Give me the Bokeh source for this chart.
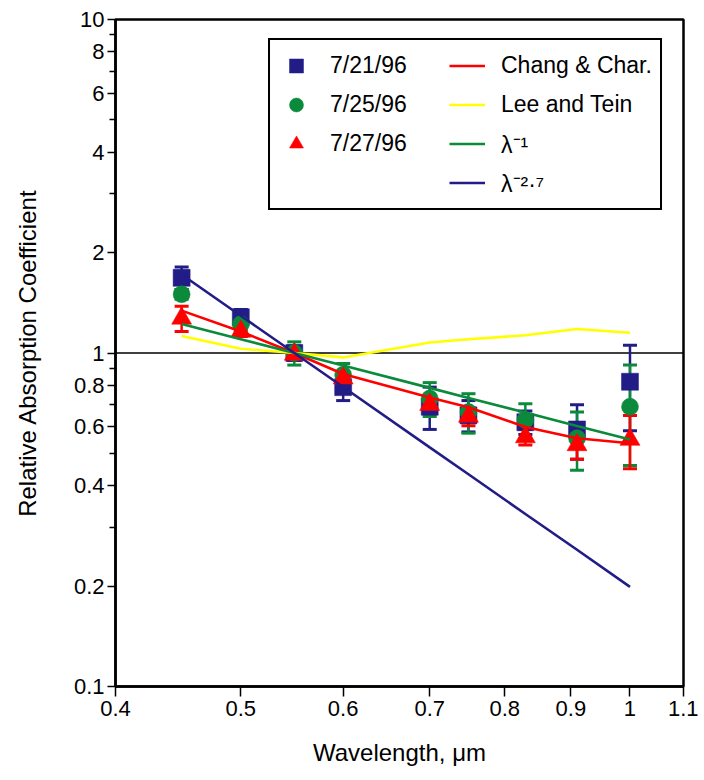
from bokeh.plotting import figure
from bokeh.models import (Range1d, FixedTicker, Whisker, ColumnDataSource, Span,
                          Legend, LegendItem, TeeHead)
from bokeh.embed import file_html
from bokeh.resources import INLINE

# ---------------- data ----------------
wavelength = [0.45, 0.50, 0.55, 0.60, 0.70, 0.75, 0.83, 0.91, 1.00]

obs_0721 = [1.68, 1.28, 1.00, 0.79, 0.69, 0.65, 0.62, 0.59, 0.82]
err_0721 = [0.13, 0.07, 0.05, 0.07, 0.10, 0.07, 0.05, 0.11, 0.235]

obs_0725 = [1.50, 1.22, 1.00, 0.86, 0.73, 0.665, 0.63, 0.555, 0.69]
err_0725 = [0.05, 0.05, 0.08, 0.07, 0.085, 0.09, 0.075, 0.11, 0.23]

obs_0727 = [1.27, 1.16, 0.99, 0.84, 0.70, 0.645, 0.56, 0.53, 0.55]
err_0727 = [0.11, 0.04, 0.03, 0.03, 0.04, 0.04, 0.03, 0.05, 0.10]

chang_char = [1.34, 1.16, 1.00, 0.865, 0.735, 0.688, 0.60, 0.555, 0.536]
lee_tein = [1.125, 1.03, 1.00, 0.97, 1.075, 1.10, 1.13, 1.18, 1.15]
lambda_m1 = [1.222, 1.10, 1.00, 0.917, 0.786, 0.733, 0.663, 0.604, 0.55]
lambda_m27 = [1.719, 1.293, 1.00, 0.791, 0.521, 0.433, 0.329, 0.257, 0.199]

x_ticks = [0.4, 0.5, 0.6, 0.7, 0.8, 0.9, 1.0, 1.1]
x_tick_labels = ["0.4", "0.5", "0.6", "0.7", "0.8", "0.9", "1", "1.1"]
y_ticks = [0.1, 0.2, 0.4, 0.6, 0.8, 1.0, 2.0, 4.0, 6.0, 8.0, 10.0]
y_tick_labels = ["0.1", "0.2", "0.4", "0.6", "0.8", "1", "2", "4", "6", "8", "10"]
y_minor_ticks = [0.3, 0.5, 0.7, 0.9, 3.0, 5.0, 7.0, 9.0]

# ---------------- styling ----------------
NAVY = "#221C87"
GREEN = "#0B8A3B"
RED = "#FF0000"
YELLOW = "#FFFF00"
FONT = "Liberation Sans"

p = figure(width=698, height=776, x_axis_type="log", y_axis_type="log",
           x_range=Range1d(0.4, 1.1), y_range=Range1d(0.1, 10),
           output_backend="svg", toolbar_location=None,
           min_border_left=115, min_border_right=15,
           min_border_top=19, min_border_bottom=90)
p.xgrid.visible = False
p.ygrid.visible = False
p.outline_line_color = "black"
p.outline_line_width = 2.5
p.outline_line_alpha = 1.0
p.background_fill_color = "white"
p.border_fill_color = "white"

p.add_layout(Span(location=1.0, dimension="width", line_color="black",
                  line_width=1.5, level="underlay"))

series = [
    (obs_0721, err_0721, NAVY, "square", 17),
    (obs_0725, err_0725, GREEN, "circle", 17),
    (obs_0727, err_0727, RED, "triangle", 20),
]

sources = []
for vals, errs, color, marker, size in series:
    src = ColumnDataSource(dict(
        x=wavelength, y=vals,
        upper=[v + e for v, e in zip(vals, errs)],
        lower=[v - e for v, e in zip(vals, errs)]))
    sources.append(src)
    p.add_layout(Whisker(source=src, base="x", upper="upper", lower="lower",
                         line_color=color, line_width=2.5, level="underlay",
                         upper_head=TeeHead(size=14, line_color=color, line_width=3),
                         lower_head=TeeHead(size=14, line_color=color, line_width=3)))

marker_renderers = []
for (vals, errs, color, marker, size), src in zip(series, sources):
    r = p.scatter("x", "y", source=src, marker=marker, size=size,
                  fill_color=color, line_color=color, line_width=0.5)
    marker_renderers.append(r)

l_red = p.line(wavelength, chang_char, line_color=RED, line_width=2.6)
l_yel = p.line(wavelength, lee_tein, line_color=YELLOW, line_width=2.6)
l_grn = p.line(wavelength, lambda_m1, line_color=GREEN, line_width=2.6)
l_nav = p.line(wavelength, lambda_m27, line_color=NAVY, line_width=2.6)

items = [
    LegendItem(label="7/21/96", renderers=[marker_renderers[0]]),
    LegendItem(label="7/25/96", renderers=[marker_renderers[1]]),
    LegendItem(label="7/27/96", renderers=[marker_renderers[2]]),
    LegendItem(label=" ", renderers=[]),
    LegendItem(label="Chang & Char.", renderers=[l_red]),
    LegendItem(label="Lee and Tein", renderers=[l_yel]),
    LegendItem(label="λ⁻¹", renderers=[l_grn]),
    LegendItem(label="λ⁻²·⁷", renderers=[l_nav]),
]
legend = Legend(items=items, location=(153, 476), nrows=4, orientation="vertical",
                border_line_color="black", border_line_width=2.5,
                border_line_alpha=1.0,
                background_fill_color="white", background_fill_alpha=1.0,
                label_text_font=FONT, label_text_font_size="23px",
                label_text_color="black",
                glyph_width=36, glyph_height=35, spacing=4, label_standoff=16,
                label_width=115, padding=8, margin=0)
p.add_layout(legend)

# axes
xa = p.xaxis[0]
xa.ticker = FixedTicker(ticks=x_ticks, minor_ticks=[])
xa.major_label_overrides = {v: s for v, s in zip(x_ticks, x_tick_labels)}
xa.axis_label = "Wavelength, μm"
xa.axis_line_width = 2.5
xa.major_tick_line_width = 1.5
xa.major_tick_in = 0
xa.major_tick_out = 10
xa.minor_tick_line_color = None
xa.major_label_standoff = 4
xa.major_label_text_font = FONT
xa.major_label_text_font_size = "22px"
xa.major_label_text_color = "black"
xa.axis_label_text_font = FONT
xa.axis_label_text_font_size = "24px"
xa.axis_label_text_font_style = "normal"
xa.axis_label_text_color = "black"
xa.axis_label_standoff = 20

ya = p.yaxis[0]
ya.ticker = FixedTicker(ticks=y_ticks, minor_ticks=y_minor_ticks)
ya.major_label_overrides = {v: s for v, s in zip(y_ticks, y_tick_labels)}
ya.axis_label = "Relative Absorption Coefficient"
ya.axis_line_width = 2.5
ya.major_tick_line_width = 1.5
ya.minor_tick_line_width = 1.5
ya.major_tick_in = 0
ya.major_tick_out = 8
ya.minor_tick_in = 0
ya.minor_tick_out = 6
ya.major_label_standoff = 3
ya.major_label_text_font = FONT
ya.major_label_text_font_size = "22px"
ya.major_label_text_color = "black"
ya.axis_label_text_font = FONT
ya.axis_label_text_font_size = "24px"
ya.axis_label_text_font_style = "normal"
ya.axis_label_text_color = "black"
ya.axis_label_standoff = 30

open("out.html", "w").write(file_html(p, INLINE))
